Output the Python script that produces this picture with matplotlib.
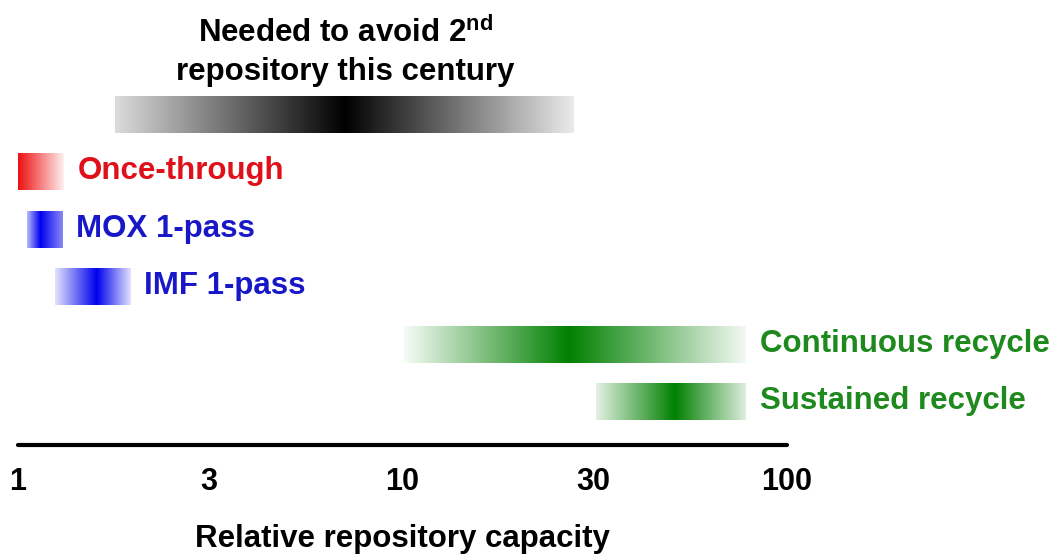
import numpy as np
import matplotlib
matplotlib.use("Agg")
import matplotlib.pyplot as plt
from matplotlib.colors import to_rgb
from matplotlib.transforms import ScaledTranslation

plt.rcParams['font.family'] = ['Liberation Sans', 'DejaVu Sans']
plt.rcParams['font.weight'] = 'bold'
plt.rcParams['mathtext.fontset'] = 'custom'
plt.rcParams['mathtext.rm'] = 'Liberation Sans:bold'
plt.rcParams['mathtext.bf'] = 'Liberation Sans:bold'

# ranges of relative repository capacity (low, peak, high)
names = ["Needed", "Once-through", "MOX 1-pass", "IMF 1-pass",
         "Continuous recycle", "Sustained recycle"]
low = [1.79, 1.0, 1.055, 1.25, 10.1, 31.9]
peak = [7.07, 1.0, 1.14, 1.60, 27.0, 51.0]
high = [28.0, 1.32, 1.31, 1.98, 78.6, 78.6]
edge_lo = [0.15, 1.0, 0.3, 0.12, 0.04, 0.12]
edge_hi = [0.08, 0.05, 0.45, 0.08, 0.04, 0.12]
bar_colors = ["#000000", "#ee1111", "#0000ee", "#0000ee", "#008000", "#008000"]
text_colors = [None, "#e0101a", "#1818c8", "#1818c8", "#1e8a1e", "#1e8a1e"]
text_x = [None, 1.43, 1.415, 2.127, 85.1, 85.1]

ticks = [1, 3, 10, 30, 100]

fig = plt.figure(figsize=(10.6, 5.56), dpi=100)
ax = fig.add_axes([18 / 1060, 111 / 556, 769 / 1060, 445 / 556])
ax.set_xscale('log')
ax.set_xlim(1, 100)
spacing = 57.4
ax.set_ylim((445 - 114) / spacing, -114 / spacing)

for i in range(len(names)):
    lo, pk, hi = np.log10(low[i]), np.log10(peak[i]), np.log10(high[i])
    # imshow spreads columns evenly in data units, so sample linearly
    lx = np.log10(np.linspace(low[i], high[i], 800))
    if pk > lo:
        left = np.interp(lx, [lo, pk], [edge_lo[i], 1.0])
    else:
        left = np.ones_like(lx)
    right = np.interp(lx, [pk, hi], [1.0, edge_hi[i]])
    alpha = np.where(lx <= pk, left, right)
    img = np.zeros((1, len(lx), 4))
    img[..., :3] = to_rgb(bar_colors[i])
    img[..., 3] = alpha
    ax.imshow(img, extent=[low[i], high[i], i + 0.33, i - 0.33],
              aspect='auto', interpolation='bilinear', zorder=2)
    if text_colors[i]:
        ax.text(text_x[i], i, names[i], color=text_colors[i], fontsize=22.5,
                fontweight='bold', va='center', ha='left', clip_on=False)

fig.text(345 / 1060, 1 - 33 / 556, r"Needed to avoid 2$^{\mathbf{nd}}$",
         ha='center', va='center', fontsize=22.5, fontweight='bold')
fig.text(345 / 1060, 1 - 72 / 556, "repository this century",
         ha='center', va='center', fontsize=22.5, fontweight='bold')

for s in ['top', 'left', 'right']:
    ax.spines[s].set_visible(False)
ax.spines['bottom'].set_linewidth(3)
ax.spines['bottom'].set_capstyle('round')
ax.set_yticks([])
ax.set_xticks(ticks)
ax.set_xticks([], minor=True)
ax.set_xticklabels([str(t) for t in ticks], fontsize=22, fontweight='bold')
ax.tick_params(axis='x', length=0, pad=16)
# the 3 and 30 labels sit a little right of their log positions in the original
for lab in ax.get_xticklabels():
    if lab.get_text() in ('3', '30'):
        lab.set_transform(lab.get_transform() + ScaledTranslation(0.07, 0, fig.dpi_scale_trans))
ax.set_xlabel("Relative repository capacity", fontsize=22.5, fontweight='bold',
              labelpad=19)

fig.savefig("out.png", dpi=100)
